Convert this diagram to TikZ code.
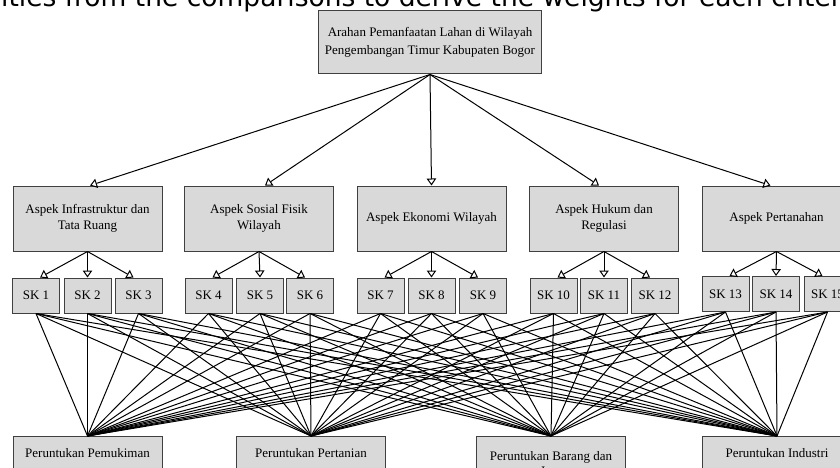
\documentclass[tikz,border=0pt]{standalone}
\usepackage{fontspec}
\setmainfont{Liberation Serif}
\newfontfamily\capfont{DejaVu Sans}
\usetikzlibrary{arrows.meta}

\begin{document}
\begin{tikzpicture}[x=1pt, y=-1pt,
    box/.style={draw=black!75, fill=black!15, line width=1pt, align=center,
                inner sep=0pt, font=\fontsize{13}{15.5}\selectfont},
    utama/.style={box, minimum width=223pt, minimum height=63pt,
                  font=\fontsize{13}{18}\selectfont},
    aspek/.style={box, minimum width=149pt, minimum height=65pt},
    sk/.style={box, minimum width=47pt, minimum height=35pt},
    hasil/.style={box, anchor=north, minimum width=149pt, minimum height=34pt},
    link/.style={line width=1pt},
    >={Triangle[open, length=7pt, width=9.5pt]}
  ]
  \useasboundingbox (0,0) rectangle (840,468);
  \clip (0,0) rectangle (840,468);

  % Caption line (cut off)
  \node[font=\capfont\fontsize{26.5}{30}\selectfont, anchor=base west, inner sep=0pt] (cap)
    at (1, 7) {ities from the comparisons to derive the weights for each criterion};

  % Goal
  \node[utama] (goal) at (430, 42.5)
    {Arahan Pemanfaatan Lahan di Wilayah\\Pengembangan Timur Kabupaten Bogor};

  % Aspects
  \node[aspek] (a1) at (87.5, 218.5) {Aspek Infrastruktur dan\\Tata Ruang};
  \node[aspek] (a2) at (259, 218.5) {Aspek Sosial Fisik\\Wilayah};
  \node[aspek] (a3) at (431.5, 218.5) {Aspek Ekonomi Wilayah};
  \node[aspek] (a4) at (604, 218.5) {Aspek Hukum dan\\Regulasi};
  \node[aspek] (a5) at (776.5, 218.5) {Aspek Pertanahan};

  % Sub criteria
  \foreach \i/\x in {1/36, 2/87.5, 3/138.5, 4/208.5, 5/260, 6/310,
                     7/380.5, 8/431.5, 9/483, 10/553.5, 11/604, 12/655}
    \node[sk] (sk\i) at (\x, 295.5) {SK \i};
  \foreach \i/\x in {13/725.5, 14/776, 15/827.5}
    \node[sk] (sk\i) at (\x, 294) {SK \i};

  % Alternatives
  \node[hasil] (p1) at (87.5, 436) {Peruntukan Pemukiman};
  \node[hasil] (p2) at (311, 436) {Peruntukan Pertanian};
  \node[hasil, minimum height=54pt] (p3) at (551, 436) {Peruntukan Barang dan\\Jasa};
  \node[hasil] (p4) at (777, 436) {Peruntukan Industri};

  % Arrows
  \draw[link, ->] (goal.south) -- ([xshift=2.5pt]a1.north);
  \draw[link, ->] (goal.south) -- ([xshift=6pt]a2.north);
  \draw[link, ->] (goal.south) -- (a3.north);
  \draw[link, ->] (goal.south) -- ([xshift=-5pt]a4.north);
  \draw[link, ->] (goal.south) -- ([xshift=-6pt]a5.north);
  \foreach \a/\i/\j/\k in {1/1/2/3, 2/4/5/6, 3/7/8/9, 4/10/11/12, 5/13/14/15} {
    \draw[link, ->] (a\a.south) -- ([xshift=4pt]sk\i.north);
    \draw[link, ->] (a\a.south) -- (sk\j.north);
    \draw[link, ->] (a\a.south) -- ([xshift=-5pt]sk\k.north);
  }

  % Sub criteria to alternatives
  \foreach \s in {1,...,15}
    \foreach \p in {1,...,4}
      \draw[link] (sk\s.south) -- (p\p.north);
\end{tikzpicture}
\end{document}
